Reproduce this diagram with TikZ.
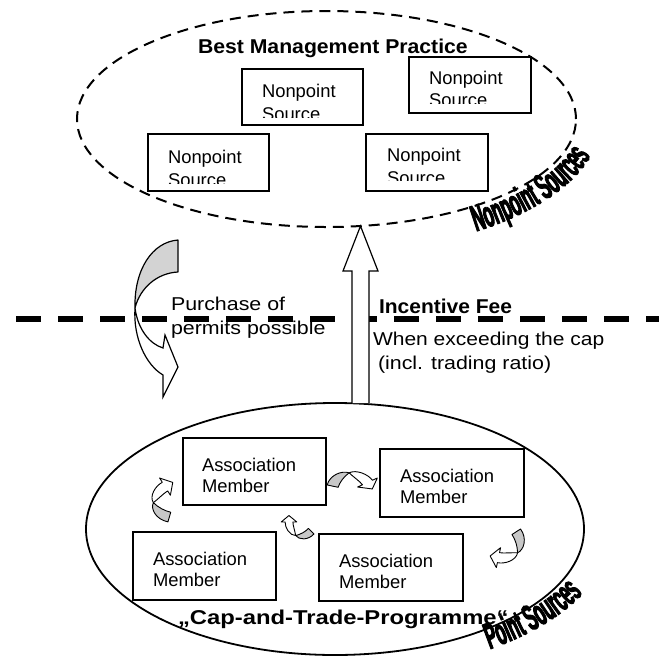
\documentclass[tikz,border=0pt]{standalone}
\usepackage{fontspec}
\usepackage{graphicx}
\setmainfont{Liberation Sans}
\newfontfamily\archfont[FakeStretch=0.44,FakeBold=2.5]{Liberation Sans}
\usetikzlibrary{shapes.geometric,decorations.text,calc}
\definecolor{arrowgray}{HTML}{C8C8C8}
\newcommand\boxfont{\fontsize{18.4}{21}\selectfont}
\newcommand\lblfont{\fontsize{18.6}{24}\selectfont}
\newcommand\bfont{\fontsize{20}{24}\selectfont\bfseries}
\newcommand\arcfont{\archfont\bfseries\fontsize{37}{37}\selectfont}
\tikzset{
  mbox/.style={draw=black, line width=1.8pt, fill=white, inner sep=0pt, outer sep=0pt, anchor=north west},
  lbl/.style={anchor=base west, inner sep=0pt, outer sep=0pt},
  blockarrow/.style={draw=black, line width=1.2pt, fill=white, line join=miter},
  divider/.style={line width=6pt, dash pattern=on 25pt off 17pt},
  curlarrow/.pic={
    \filldraw[fill=arrowgray, draw=black, line width=0.9pt, line join=round]
      (165:1.3) .. controls (138:1.5) and (110:1.4) .. (95:1.15)
      .. controls (115:0.95) and (140:0.78) .. (165:0.7) -- cycle;
    \filldraw[fill=white, draw=black, line width=0.9pt, line join=round]
      (95:1.15) .. controls (78:1.42) and (48:1.38) .. (30:1.3) -- (30:1.6)
      -- (1.12,0.07) -- (30:0.4) -- (30:0.7)
      .. controls (50:0.74) and (80:0.86) .. (95:1.15) -- cycle;
  }
}
\begin{document}
\begin{tikzpicture}[x=1pt,y=1pt]
\useasboundingbox (0,0) rectangle (659,-657);

% ---------- ellipses ----------
\node[ellipse, draw=black, line width=2pt, dash pattern=on 11pt off 7pt,
      minimum width=499pt, minimum height=216pt, inner sep=0pt] (bmp) at (326.5,-119) {};

% ---------- divider ----------
\coordinate (dl) at (16,-319);
\coordinate (dr) at (659,-319);
\draw[divider] (dl) -- (dr);

% ---------- nonpoint source boxes ----------
\node[mbox, minimum width=121pt, minimum height=56pt] (np1) at (242,-69) {};
\node[mbox, minimum width=122pt, minimum height=56pt] (np2) at (409,-57) {};
\node[mbox, minimum width=121pt, minimum height=57pt] (np3) at (148,-134) {};
\node[mbox, minimum width=122pt, minimum height=57pt] (np4) at (366,-134) {};
\begin{scope}
  \clip (242,-69) rectangle (363,-117);
  \node[lbl] (np1a) at (262,-97.5) {\boxfont Nonpoint};
  \node[lbl] (np1b) at (262,-120.5) {\boxfont Source};
\end{scope}
\begin{scope}
  \clip (409,-57) rectangle (531,-103);
  \node[lbl] (np2a) at (429,-84) {\boxfont Nonpoint};
  \node[lbl] (np2b) at (429,-106.5) {\boxfont Source};
\end{scope}
\begin{scope}
  \clip (148,-134) rectangle (269,-183);
  \node[lbl] (np3a) at (168,-163) {\boxfont Nonpoint};
  \node[lbl] (np3b) at (168,-186.5) {\boxfont Source};
\end{scope}
\begin{scope}
  \clip (366,-134) rectangle (488,-180.5);
  \node[lbl] (np4a) at (387,-161) {\boxfont Nonpoint};
  \node[lbl] (np4b) at (387,-184) {\boxfont Source};
\end{scope}

\node[lbl] (title) at (198,-53) {\bfont\scalebox{1.06}[1]{Best Management Practice}};

% curved label on top ellipse
\coordinate (npstart) at ([shift={(-57:275 and 134)}]bmp.center);
\path[decorate, decoration={text along path, text align=left,
      text={|\arcfont|Nonpoint Sources}}]
  (npstart) arc[start angle=-57, end angle=-2, x radius=275pt, y radius=134pt];

% ---------- big left curved arrow ----------
\filldraw[fill=arrowgray!80, draw=black, line width=1.2pt, line join=round]
  (178,-240) .. controls (152,-242) and (134,-270) .. (135,-308)
  .. controls (140,-288) and (157,-273) .. (178,-272) -- cycle;
\filldraw[fill=white, draw=black, line width=1.2pt, line join=miter]
  (135,-308) .. controls (133,-338) and (146,-365) .. (163,-375)
  -- (163,-397) -- (178,-367) -- (165,-335) -- (163,-348)
  .. controls (150,-344) and (138,-330) .. (135,-308) -- cycle;

% ---------- labels in the middle ----------
\node[lbl] (pur1) at (171,-310) {\lblfont\scalebox{1.15}[1]{Purchase of}};
\node[lbl] (pur2) at (171,-334) {\lblfont\scalebox{1.15}[1]{permits possible}};
\node[lbl] (fee) at (379,-313) {\bfont\scalebox{1.05}[1]{Incentive Fee}};
\node[lbl] (when1) at (373,-345) {\lblfont\scalebox{1.13}[1]{When exceeding the cap}};
\node[lbl] (when2) at (378,-369) {\lblfont\scalebox{1.15}[1]{(incl. trading ratio)}};

% ---------- bottom ellipse ----------
\node[ellipse, draw=black, line width=1.8pt, minimum width=498pt, minimum height=252pt,
      inner sep=0pt] (ps) at (335,-529) {};

% ---------- up block arrow ----------
\coordinate (ubase) at (360.5,-403);
\coordinate (utip) at (360.5,-226);
\draw[blockarrow] ($(ubase)+(-8.5,0)$) -- ($(utip)+(-8.5,-45)$) -- ++(-9,0) -- (utip)
  -- ($(utip)+(17.5,-45)$) -- ++(-9,0) -- ($(ubase)+(8.5,0)$);

% ---------- association member boxes ----------
\node[mbox, minimum width=143pt, minimum height=67pt] (amA) at (183,-438) {};
\node[mbox, minimum width=144pt, minimum height=68pt] (amB) at (380,-449) {};
\node[mbox, minimum width=143pt, minimum height=68pt] (amC) at (133,-532) {};
\node[mbox, minimum width=144pt, minimum height=67pt] (amD) at (319,-534) {};
\node[lbl] (amA1) at (202,-471) {\boxfont Association};
\node[lbl] (amA2) at (202,-492) {\boxfont Member};
\node[lbl] (amB1) at (400,-482) {\boxfont Association};
\node[lbl] (amB2) at (400,-503) {\boxfont Member};
\node[lbl] (amC1) at (153,-565) {\boxfont Association};
\node[lbl] (amC2) at (153,-586) {\boxfont Member};
\node[lbl] (amD1) at (339,-567) {\boxfont Association};
\node[lbl] (amD2) at (339,-588) {\boxfont Member};

% ---------- small curled arrows ----------
\pic[xscale=19, yscale=15] (sa1) at (351,-490) {curlarrow};
\pic[rotate=-132, scale=17] (sa2) at (502,-541) {curlarrow};
\pic[rotate=90, xscale=16.6, yscale=18] (sa3) at (174,-501) {curlarrow};
\pic[rotate=150, scale=13] (sa4) at (302,-522) {curlarrow};

\node[lbl] (cap) at (178,-624) {\bfont\scalebox{1.19}[1]{„Cap-and-Trade-Programme“}};

\coordinate (psstart) at ([shift={(-56:277 and 145)}]ps.center);
\path[decorate, decoration={text along path, text align=left,
      text={|\arcfont|Point Sources}}]
  (psstart) arc[start angle=-56, end angle=-2, x radius=277pt, y radius=145pt];
\end{tikzpicture}
\end{document}
